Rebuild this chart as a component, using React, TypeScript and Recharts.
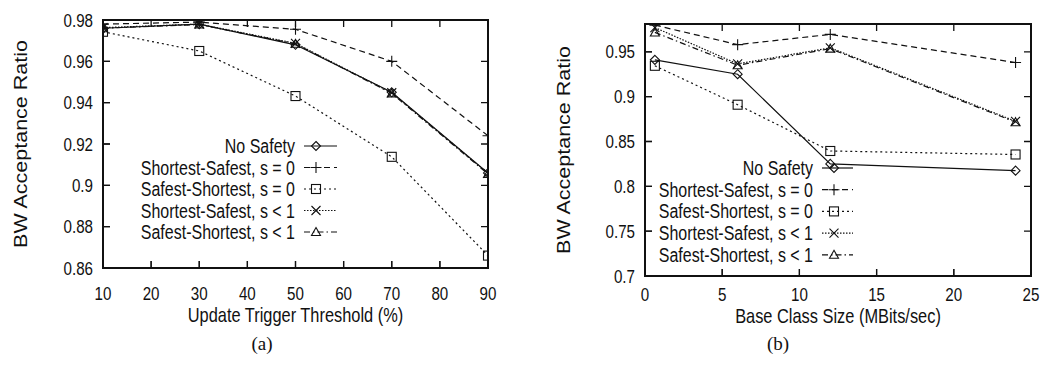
import { Legend, Line, LineChart, XAxis, YAxis } from "recharts";

// panel (a): update trigger threshold sweep
const thresholdPct = [10, 30, 50, 70, 90];
const aNoSafety = [0.976, 0.978, 0.968, 0.945, 0.906];
const aShortSafe0 = [0.978, 0.979, 0.9755, 0.96, 0.924];
const aSafeShort0 = [0.9743, 0.965, 0.9432, 0.9138, 0.866];
const aShortSafe1 = [0.9763, 0.978, 0.9687, 0.9448, 0.9058];
const aSafeShort1 = [0.976, 0.9778, 0.9685, 0.9445, 0.9055];
const aXTicks = [10, 20, 30, 40, 50, 60, 70, 80, 90];
const aYTicks = [0.86, 0.88, 0.9, 0.92, 0.94, 0.96, 0.98];

// panel (b): base class size sweep
const baseClassSize = [0.64, 6, 12, 24];
const bNoSafety = [0.941, 0.925, 0.825, 0.8175];
const bShortSafe0 = [0.9797, 0.958, 0.9694, 0.938];
const bSafeShort0 = [0.9344, 0.891, 0.8394, 0.8355];
const bShortSafe1 = [0.977, 0.9365, 0.9545, 0.8725];
const bSafeShort1 = [0.9716, 0.935, 0.9535, 0.8715];
const bXTicks = [0, 5, 10, 15, 20, 25];
const bYTicks = [0.7, 0.75, 0.8, 0.85, 0.9, 0.95];

const INK = "#111";
const SANS = "'Liberation Sans', Arial, Helvetica, sans-serif";
const SQUEEZE = 0.82; // scanned figure is horizontally compressed
const TICK = 7; // gnuplot-style inward ticks

type MarkerKind = "diamond" | "plus" | "square" | "cross" | "triangle";

const SERIES: { key: string; name: string; dash?: string; marker: MarkerKind }[] = [
  { key: "noSafety", name: "No Safety", marker: "diamond" },
  { key: "shortSafe0", name: "Shortest-Safest, s = 0", dash: "6 4", marker: "plus" },
  { key: "safeShort0", name: "Safest-Shortest, s = 0", dash: "2 3", marker: "square" },
  { key: "shortSafe1", name: "Shortest-Safest, s < 1", dash: "1.5 1.5", marker: "cross" },
  { key: "safeShort1", name: "Safest-Shortest, s < 1", dash: "6 3 1.5 3", marker: "triangle" }
];

function buildRows(xs: number[], cols: number[][]) {
  return xs.map((x, i) => {
    const row: Record<string, number> = { x };
    SERIES.forEach((s, j) => {
      row[s.key] = cols[j][i];
    });
    return row;
  });
}

const dataA = buildRows(thresholdPct, [aNoSafety, aShortSafe0, aSafeShort0, aShortSafe1, aSafeShort1]);
const dataB = buildRows(baseClassSize, [bNoSafety, bShortSafe0, bSafeShort0, bShortSafe1, bSafeShort1]);

function Marker({ kind, cx, cy, s = 4.5 }: { kind: MarkerKind; cx: number; cy: number; s?: number }) {
  const st = { stroke: INK, strokeWidth: 1.1, fill: "none" };
  switch (kind) {
    case "diamond":
      return <polygon points={`${cx},${cy - s} ${cx + s},${cy} ${cx},${cy + s} ${cx - s},${cy}`} {...st} />;
    case "plus":
      return <path d={`M${cx - s - 1},${cy}H${cx + s + 1}M${cx},${cy - s - 1}V${cy + s + 1}`} {...st} />;
    case "square":
      return <rect x={cx - s} y={cy - s} width={2 * s} height={2 * s} {...st} />;
    case "cross":
      return <path d={`M${cx - s},${cy - s}L${cx + s},${cy + s}M${cx - s},${cy + s}L${cx + s},${cy - s}`} {...st} />;
    default:
      return <polygon points={`${cx},${cy - s} ${cx + s},${cy + s - 1} ${cx - s},${cy + s - 1}`} {...st} />;
  }
}

function fmt(v: number) {
  return String(Number(v.toFixed(2)));
}

interface LegendSpec {
  textRight: number;
  sampleLeft: number;
  sampleRight: number;
  markerX: number;
  rowY0: number;
  rowGap: number;
}

interface PanelProps {
  left: number;
  width: number;
  height: number;
  data: Record<string, number>[];
  xDomain: [number, number];
  xTicks: number[];
  yDomain: [number, number];
  yTicks: number[];
  plot: { top: number; right: number; bottom: number; left: number }; // panel-local edges
  tickBaseline: number;
  xLabel: string;
  xLabelBaseline: number;
  yLabelX: number;
  legend: LegendSpec;
  caption: string;
  captionX: number;
}

function Panel(p: PanelProps) {
  const lg = p.legend;
  const pl = p.plot;
  const plotW = pl.right - pl.left;
  const plotH = pl.bottom - pl.top;
  const margin = { top: pl.top - 1, right: p.width - pl.right - 1, bottom: 0, left: 0 };
  const common = {
    stroke: INK,
    axisLine: { stroke: INK, strokeWidth: 1.5 },
    tickLine: { stroke: INK, strokeWidth: 1.2 },
    tickSize: -TICK,
    tickMargin: TICK,
    allowDataOverflow: true,
    interval: 0 as const
  };
  // same linear mapping as the chart's axes (range = plot box, no padding)
  const sx = (v: number) => pl.left + ((v - p.xDomain[0]) / (p.xDomain[1] - p.xDomain[0])) * plotW;
  const sy = (v: number) => pl.bottom - ((v - p.yDomain[0]) / (p.yDomain[1] - p.yDomain[0])) * plotH;

  return (
    <div style={{ position: "absolute", left: p.left, top: 0, width: p.width, height: p.height }}>
      <LineChart width={p.width} height={p.height} data={p.data} margin={margin}>
        <XAxis
          {...common}
          xAxisId={0}
          dataKey="x"
          type="number"
          domain={p.xDomain}
          ticks={p.xTicks}
          height={p.height - pl.bottom}
          tick={(t: any) => (
            <text
              transform={`translate(${t.x},${p.tickBaseline}) scale(${SQUEEZE},1)`}
              textAnchor="middle"
              fontSize={18.5}
              fontFamily={SANS}
              fill={INK}
            >
              {t.payload.value}
            </text>
          )}
          label={() => (
            <text
              transform={`translate(${(pl.left + pl.right) / 2},${p.xLabelBaseline}) scale(${SQUEEZE},1)`}
              textAnchor="middle"
              fontSize={20}
              fontFamily={SANS}
              fill={INK}
            >
              {p.xLabel}
            </text>
          )}
        />
        <XAxis
          {...common}
          xAxisId="top"
          orientation="top"
          dataKey="x"
          type="number"
          domain={p.xDomain}
          ticks={p.xTicks}
          height={1}
          tick={false}
        />
        <YAxis
          {...common}
          yAxisId={0}
          type="number"
          domain={p.yDomain}
          ticks={p.yTicks}
          width={pl.left}
          tick={(t: any) => (
            <text
              transform={`translate(${pl.left - 10},${t.y + 6.5}) scale(${SQUEEZE},1)`}
              textAnchor="end"
              fontSize={18.5}
              fontFamily={SANS}
              fill={INK}
            >
              {fmt(t.payload.value)}
            </text>
          )}
          label={() => (
            <text
              transform={`translate(${p.yLabelX},${(pl.top + pl.bottom) / 2}) scale(${SQUEEZE},1) rotate(-90)`}
              textAnchor="middle"
              fontSize={21.5}
              fontFamily={SANS}
              fill={INK}
            >
              BW Acceptance Ratio
            </text>
          )}
        />
        <YAxis
          {...common}
          yAxisId="right"
          orientation="right"
          type="number"
          domain={p.yDomain}
          ticks={p.yTicks}
          width={1}
          tick={false}
        />
        <Legend
          layout="vertical"
          align="center"
          verticalAlign="middle"
          wrapperStyle={{ left: 0, top: 0, width: p.width, height: p.height, pointerEvents: "none" }}
          content={() => (
            <svg width={p.width} height={p.height} style={{ position: "absolute", left: 0, top: 0 }}>
              {SERIES.map((s, i) => {
                const y = lg.rowY0 + i * lg.rowGap;
                return (
                  <g key={s.key}>
                    <text
                      transform={`translate(${lg.textRight},${y + 7}) scale(${SQUEEZE},1)`}
                      textAnchor="end"
                      fontSize={19.5}
                      fontFamily={SANS}
                      fill={INK}
                    >
                      {s.name}
                    </text>
                    <line
                      x1={lg.sampleLeft}
                      x2={lg.sampleRight}
                      y1={y}
                      y2={y}
                      stroke={INK}
                      strokeWidth={1.2}
                      strokeDasharray={s.dash}
                    />
                    <Marker kind={s.marker} cx={lg.markerX} cy={y} />
                  </g>
                );
              })}
            </svg>
          )}
        />
        {SERIES.map((s) => (
          <Line
            key={s.key}
            dataKey={s.key}
            name={s.name}
            type="linear"
            stroke={INK}
            strokeWidth={1.2}
            strokeDasharray={s.dash}
            dot={(d: any) => <Marker key={`${s.key}-${d.index}`} kind={s.marker} cx={d.cx} cy={d.cy} />}
            activeDot={false}
            isAnimationActive={false}
          />
        ))}
      </LineChart>

      {/* plot border (gnuplot box) on its own layer above the chart */}
      <div
        style={{
          position: "absolute",
          left: pl.left - 1,
          top: pl.top - 1,
          width: plotW + 2,
          height: plotH + 2,
          border: `2px solid ${INK}`,
          boxSizing: "border-box",
          pointerEvents: "none",
          zIndex: 5
        }}
      />
      <svg
        width={p.width}
        height={p.height}
        style={{ position: "absolute", left: 0, top: 0, pointerEvents: "none", zIndex: 6 }}
      >
        <path
          d={[
            ...p.xTicks.map((v) => `M${sx(v)},${pl.bottom}V${pl.bottom - TICK}M${sx(v)},${pl.top}V${pl.top + TICK}`),
            ...p.yTicks.map((v) => `M${pl.left},${sy(v)}H${pl.left + TICK}M${pl.right},${sy(v)}H${pl.right - TICK}`)
          ].join("")}
          fill="none"
          stroke={INK}
          strokeWidth={1.3}
        />
      </svg>

      <div
        style={{
          position: "absolute",
          left: p.captionX - 30,
          top: 333,
          width: 60,
          textAlign: "center",
          fontFamily: "'Liberation Serif', 'Times New Roman', serif",
          fontSize: 19,
          color: INK
        }}
      >
        {p.caption}
      </div>
    </div>
  );
}

export default function App() {
  return (
    <div
      style={{
        position: "absolute",
        left: 0,
        top: 0,
        width: 1044,
        height: 376,
        background: "#fff",
        overflow: "hidden"
      }}
    >
      <Panel
        left={0}
        width={520}
        height={332}
        data={dataA}
        xDomain={[10, 90]}
        xTicks={aXTicks}
        yDomain={[0.86, 0.98]}
        yTicks={aYTicks}
        plot={{ top: 20, right: 488, bottom: 268, left: 103 }}
        tickBaseline={299.5}
        xLabel="Update Trigger Threshold (%)"
        xLabelBaseline={321.5}
        yLabelX={27}
        legend={{ textRight: 295, sampleLeft: 304, sampleRight: 337, markerX: 316, rowY0: 146, rowGap: 21.5 }}
        caption="(a)"
        captionX={262}
      />
      <Panel
        left={520}
        width={524}
        height={332}
        data={dataB}
        xDomain={[0, 25]}
        xTicks={bXTicks}
        yDomain={[0.7, 0.981]}
        yTicks={bYTicks}
        plot={{ top: 24, right: 511, bottom: 276, left: 125 }}
        tickBaseline={301}
        xLabel="Base Class Size (MBits/sec)"
        xLabelBaseline={323}
        yLabelX={50}
        legend={{ textRight: 293, sampleLeft: 302, sampleRight: 333, markerX: 314, rowY0: 168, rowGap: 21.7 }}
        caption="(b)"
        captionX={258}
      />
    </div>
  );
}
